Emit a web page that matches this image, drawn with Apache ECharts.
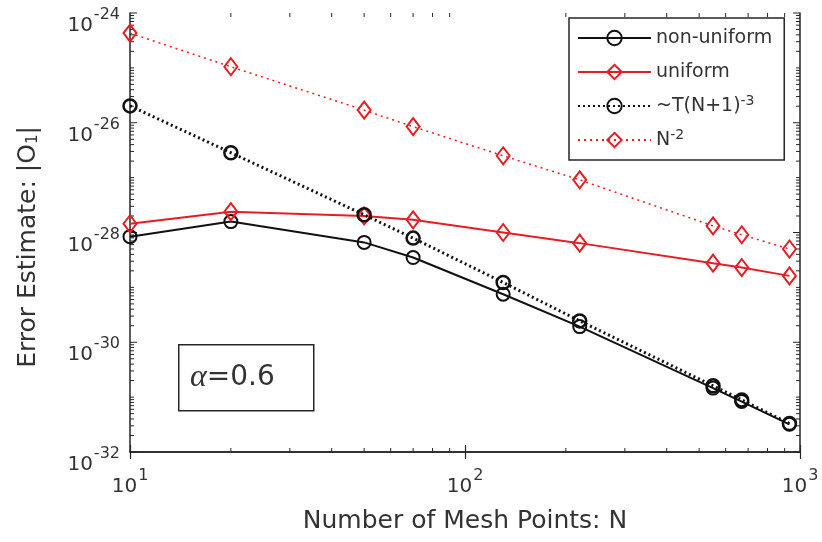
<!DOCTYPE html>
<html>
<head>
<meta charset="utf-8">
<script src="https://cdn.jsdelivr.net/npm/echarts@6/dist/echarts.min.js"></script>
<style>
html,body{margin:0;padding:0;background:#fff;}
#chart{width:822px;height:542px;}
</style>
</head>
<body>
<div id="chart"></div>
<script>
// ---- data ----
const meshPoints = [10, 20, 50, 70, 130, 220, 550, 670, 930];
const nonUniform = [8.4e-29, 1.58e-28, 6.6e-29, 3.5e-29, 7.5e-30, 1.93e-30, 1.46e-31, 8.3e-32, 3.2e-32];
const uniform    = [1.44e-28, 2.4e-28, 2.0e-28, 1.7e-28, 1.0e-28, 6.4e-29, 2.76e-29, 2.3e-29, 1.62e-29];
const fitT3      = [2.03e-26, 2.85e-27, 2.1e-28, 7.9e-29, 1.23e-29, 2.45e-30, 1.61e-31, 8.9e-32, 3.3e-32];
const fitN2      = [4.3e-25, 1.05e-25, 1.7e-26, 8.5e-27, 2.5e-27, 9.1e-28, 1.32e-28, 9.1e-29, 5.0e-29];
const seriesNames = ['non-uniform', 'uniform', '~T(N+1)^-3', 'N^-2'];

// axis range (log)
const xMin = 10, xMax = 1000;
const yMin = 1e-32, yMax = 1e-24;
const yLabelExponents = [-32, -30, -28, -26, -24];

// tick values
const xMinorTicks = [];
for (let e = 1; e < 3; e++) for (let m = 2; m <= 9; m++) xMinorTicks.push(m * Math.pow(10, e));
const yMajorTicks = yLabelExponents.map(e => Math.pow(10, e));
const yMinorTicks = [];
for (let e = -32; e < -24; e++) for (let m = 1; m <= 9; m++) {
  if (m === 1 && (e % 2 === 0)) continue;
  yMinorTicks.push(m * Math.pow(10, e));
}

const RED = '#e51e25', BLACK = '#111111', AXIS = '#262626', TXT = '#333333';
const FONT = 'DejaVu Sans';
const zip = (a, b) => a.map((v, i) => [v, b[i]]);

const supLabel = function (v) {
  const e = Math.round(Math.log10(v));
  return '{b|10}{s|' + e + '}';
};
const labelRich = {
  b: {fontSize: 20, fontFamily: FONT, color: TXT, lineHeight: 20, padding: [13, 0, 0, 0], verticalAlign: 'top'},
  s: {fontSize: 16, fontFamily: FONT, color: TXT, lineHeight: 17, padding: [4, 0, 0, 1], verticalAlign: 'top'}
};
const zrLabelRich = {
  b: {fontSize: 20, fontFamily: FONT, fill: TXT, lineHeight: 20, padding: [13, 0, 0, 0], verticalAlign: 'top'},
  s: {fontSize: 16, fontFamily: FONT, fill: TXT, lineHeight: 17, padding: [4, 0, 0, 1], verticalAlign: 'top'}
};

// kind: 0 = x minor tick, 1 = y tick, 2 = y tick label
const tickData = xMinorTicks.map(v => [v, yMin, 0, 4])
  .concat(yMinorTicks.map(v => [xMin, v, 1, 4]))
  .concat(yMajorTicks.map(v => [xMin, v, 1, 7]))
  .concat(yMajorTicks.map(v => [xMin, v, 2, 0]));

const chart = echarts.init(document.getElementById('chart'), null, {renderer: 'canvas'});
const option = {
  backgroundColor: '#fff',
  animation: false,
  grid: {left: 130, right: 22, top: 13, bottom: 90, show: false, containLabel: false, outerBoundsMode: 'none'},
  xAxis: [{
    type: 'log', logBase: 10, min: xMin, max: xMax, position: 'bottom',
    name: 'Number of Mesh Points: N', nameLocation: 'middle', nameGap: 57,
    nameTextStyle: {fontSize: 25, fontFamily: FONT, color: TXT},
    axisLine: {show: true, lineStyle: {color: AXIS, width: 1.5}},
    axisTick: {show: true, inside: true, length: 7, lineStyle: {color: AXIS, width: 1.2}},
    axisLabel: {formatter: supLabel, rich: labelRich, margin: 12, showMinLabel: true, showMaxLabel: true},
    splitLine: {show: false}
  }, {
    type: 'log', logBase: 10, min: xMin, max: xMax, position: 'top',
    axisLine: {show: true, lineStyle: {color: AXIS, width: 1.5}},
    axisTick: {show: true, inside: true, length: 7, lineStyle: {color: AXIS, width: 1.2}},
    axisLabel: {show: false}, splitLine: {show: false}
  }],
  yAxis: [{
    type: 'log', logBase: 10, min: yMin, max: yMax, splitNumber: 8, position: 'left',
    axisLine: {show: true, lineStyle: {color: AXIS, width: 1.5}},
    axisTick: {show: false},
    axisLabel: {show: false},
    splitLine: {show: false}
  }, {
    type: 'log', logBase: 10, min: yMin, max: yMax, splitNumber: 8, position: 'right',
    axisLine: {show: true, lineStyle: {color: AXIS, width: 1.5}},
    axisTick: {show: false},
    axisLabel: {show: false}, splitLine: {show: false}
  }],
  legend: {
    data: seriesNames,
    orient: 'vertical', left: 569, top: 18,
    backgroundColor: '#fff', borderColor: AXIS, borderWidth: 1.5,
    padding: [8, 12, 8, 8], itemGap: 10, itemWidth: 73, itemHeight: 18,
    formatter: function (n) {
      if (n === '~T(N+1)^-3') return '~T(N+1){s|-3}';
      if (n === 'N^-2') return 'N{s|-2}';
      return n;
    },
    textStyle: {fontSize: 19, fontFamily: FONT, color: TXT, lineHeight: 24,
      rich: {s: {fontSize: 14, fontFamily: FONT, color: TXT, verticalAlign: 'top', lineHeight: 14}}}
  },
  series: [{
    name: 'ticks', type: 'custom', silent: true, clip: false, z: 1,
    xAxisIndex: 0, yAxisIndex: 0,
    data: tickData,
    renderItem: function (params, api) {
      const cs = params.coordSys;
      const p = api.coord([api.value(0), api.value(1)]);
      const st = {stroke: AXIS, lineWidth: 1};
      const kind = api.value(2);
      const L = api.value(3);
      if (kind === 0) {
        const b = cs.y + cs.height, t = cs.y;
        return {type: 'group', children: [
          {type: 'line', shape: {x1: p[0], y1: b, x2: p[0], y2: b - L}, style: st},
          {type: 'line', shape: {x1: p[0], y1: t, x2: p[0], y2: t + L}, style: st}
        ]};
      } else if (kind === 1) {
        const l = cs.x, r = cs.x + cs.width;
        return {type: 'group', children: [
          {type: 'line', shape: {x1: l, y1: p[1], x2: l + L, y2: p[1]}, style: st},
          {type: 'line', shape: {x1: r, y1: p[1], x2: r - L, y2: p[1]}, style: st}
        ]};
      } else {
        const e = Math.round(Math.log10(api.value(1)));
        return {
          type: 'text',
          x: cs.x - 10, y: p[1],
          style: {
            text: '{b|10}{s|' + e + '}',
            rich: zrLabelRich,
            align: 'right', verticalAlign: 'middle'
          }
        };
      }
    }
  }, {
    name: seriesNames[0], type: 'line', data: zip(meshPoints, nonUniform),
    symbol: 'circle', symbolSize: 13,
    lineStyle: {color: BLACK, width: 2},
    itemStyle: {color: 'rgba(255,255,255,0)', borderColor: BLACK, borderWidth: 2}
  }, {
    name: seriesNames[1], type: 'line', data: zip(meshPoints, uniform),
    symbol: 'diamond', symbolSize: [13, 17],
    lineStyle: {color: RED, width: 2},
    itemStyle: {color: 'rgba(255,255,255,0)', borderColor: RED, borderWidth: 2}
  }, {
    name: seriesNames[2], type: 'line', data: zip(meshPoints, fitT3),
    symbol: 'circle', symbolSize: 13,
    lineStyle: {color: BLACK, width: 3, type: [2, 3]},
    itemStyle: {color: 'rgba(255,255,255,0)', borderColor: BLACK, borderWidth: 2.5}
  }, {
    name: seriesNames[3], type: 'line', data: zip(meshPoints, fitN2),
    symbol: 'diamond', symbolSize: [13, 17],
    lineStyle: {color: RED, width: 1.5, type: [2, 4]},
    itemStyle: {color: 'rgba(255,255,255,0)', borderColor: RED, borderWidth: 2}
  }],
  graphic: [{
    type: 'text', x: 28, y: 247, rotation: Math.PI / 2, z: 60,
    style: {
      text: 'Error Estimate: |O{sub|1}|',
      fontSize: 25, fontFamily: FONT, fill: TXT, align: 'center', verticalAlign: 'middle',
      rich: {sub: {fontSize: 15, fontFamily: FONT, fill: TXT, verticalAlign: 'bottom', lineHeight: 14, padding: [14, 0, 0, 0]}}
    }
  }, {
    type: 'rect', left: 178, top: 344, z: 50,
    shape: {width: 135, height: 66},
    style: {fill: '#fff', stroke: AXIS, lineWidth: 1.5}
  }, {
    type: 'text', left: 190, top: 362, z: 51,
    style: {
      text: '{a|α}{b|=0.6}',
      rich: {
        a: {fontSize: 32, fontFamily: 'Liberation Serif', fontStyle: 'italic', fill: TXT},
        b: {fontSize: 28, fontFamily: FONT, fill: TXT}
      }
    }
  }]
};
chart.setOption(option);
</script>
</body>
</html>
